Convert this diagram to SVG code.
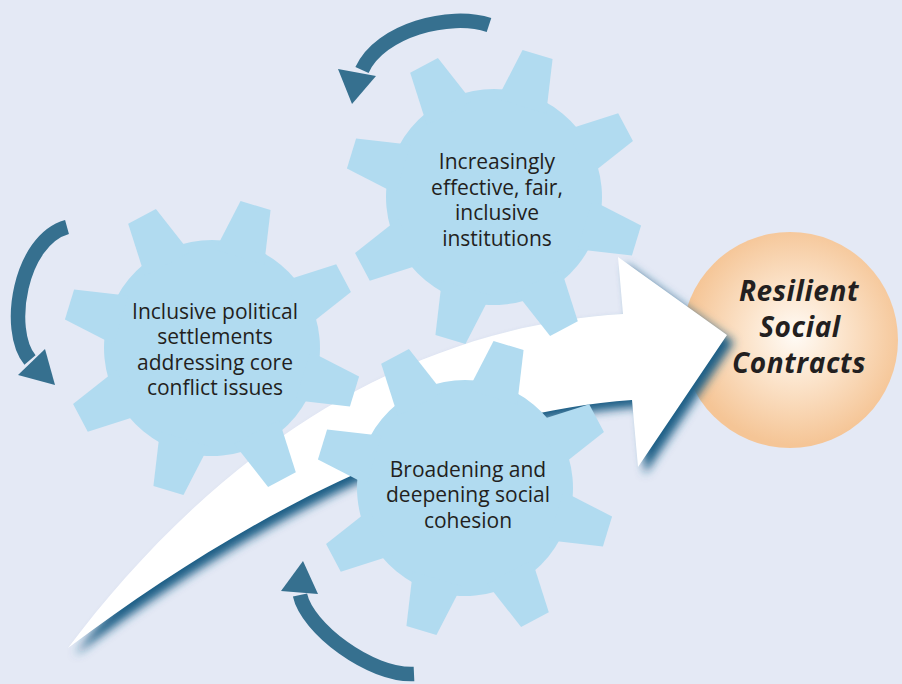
<svg xmlns="http://www.w3.org/2000/svg" xmlns:xlink="http://www.w3.org/1999/xlink" width="902" height="684" viewBox="0 0 902 684">
<style>
.gtext{font-family:"Open Sans","Noto Sans","DejaVu Sans",sans-serif;font-size:21px;fill:#231f20;text-anchor:middle}
.ctext{font-family:"Open Sans","Noto Sans","DejaVu Sans",sans-serif;font-size:28px;letter-spacing:0.6px;font-weight:bold;font-style:italic;fill:#231f20;text-anchor:middle}
.rot{fill:none;stroke:#36708f;stroke-width:14.5}
.rothead{fill:#36708f}
</style>
<defs>
<filter id="blur" x="-10%" y="-10%" width="120%" height="120%"><feGaussianBlur stdDeviation="5"/></filter>
<radialGradient id="orange" gradientUnits="userSpaceOnUse" cx="795" cy="335" r="110">
<stop offset="0" stop-color="#fffbf6"/>
<stop offset="0.4" stop-color="#fce6cf"/>
<stop offset="1" stop-color="#f5c596"/>
</radialGradient>
<polygon id="tooth" points="95,-25.5 149,-15.7 149,15.7 95,25.5"/>
<g id="gear" fill="#b1dbf0">
<circle r="108"/>
<use xlink:href="#tooth"/>
<use xlink:href="#tooth" transform="rotate(45)"/>
<use xlink:href="#tooth" transform="rotate(90)"/>
<use xlink:href="#tooth" transform="rotate(135)"/>
<use xlink:href="#tooth" transform="rotate(180)"/>
<use xlink:href="#tooth" transform="rotate(225)"/>
<use xlink:href="#tooth" transform="rotate(270)"/>
<use xlink:href="#tooth" transform="rotate(315)"/>
</g>
<path id="bigArrow" d="M68,648 C178,502 360,330 623,314 L618,257 L727,335 L638,467 L632,400 C430,415 240,520 68,648 Z"/>
</defs>
<rect width="902" height="684" fill="#e4e9f5"/>

<g id="goal">
<circle cx="790" cy="340" r="108" fill="url(#orange)"/>
<text class="ctext" x="799" y="301">Resilient</text>
<text class="ctext" x="800" y="337">Social</text>
<text class="ctext" x="799" y="373">Contracts</text>
</g>

<g id="connectors">
<g id="progress-arrow">
<use xlink:href="#bigArrow" fill="#1f5e86" transform="translate(7,7)" filter="url(#blur)"/>
<use xlink:href="#bigArrow" fill="#ffffff"/>
</g>
<g id="rotate-top">
<path class="rot" d="M489,25 C450,12 380,30 362,70"/>
<polygon class="rothead" points="338,69 376,76 352,104"/>
</g>
<g id="rotate-left">
<path class="rot" d="M67,227 C20,240 5,330 30,360"/>
<polygon class="rothead" points="18,375 45,349 55,385"/>
</g>
<g id="rotate-bottom">
<path class="rot" d="M414,674 C370,676 307,628 300,595"/>
<polygon class="rothead" points="281,591 318,594 303,561"/>
</g>
</g>

<g id="gear-institutions">
<use xlink:href="#gear" transform="translate(494,197) rotate(-118)"/>
<text class="gtext" x="497" y="169">Increasingly</text>
<text class="gtext" x="497" y="195">effective, fair,</text>
<text class="gtext" x="497" y="220">inclusive</text>
<text class="gtext" x="497" y="246">institutions</text>
</g>

<g id="gear-settlements">
<use xlink:href="#gear" transform="translate(212,348) rotate(-118)"/>
<text class="gtext" x="215" y="319">Inclusive political</text>
<text class="gtext" x="215" y="344">settlements</text>
<text class="gtext" x="215" y="370">addressing core</text>
<text class="gtext" x="215" y="395">conflict issues</text>
</g>

<g id="gear-cohesion">
<use xlink:href="#gear" transform="translate(465,488) rotate(-118)"/>
<text class="gtext" x="468" y="477">Broadening and</text>
<text class="gtext" x="468" y="502">deepening social</text>
<text class="gtext" x="468" y="528">cohesion</text>
</g>
</svg>
